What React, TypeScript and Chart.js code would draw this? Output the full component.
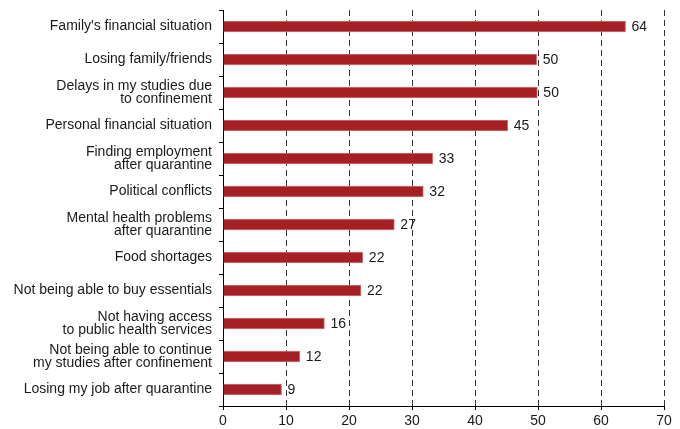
import React, { useEffect, useRef } from "react";
import { Chart, registerables } from "chart.js";

Chart.register(...registerables);

const categories: (string | string[])[] = [
  "Family's financial situation",
  "Losing family/friends",
  ["Delays in my studies due", "to confinement"],
  "Personal financial situation",
  ["Finding employment", "after quarantine"],
  "Political conflicts",
  ["Mental health problems", "after quarantine"],
  "Food shortages",
  "Not being able to buy essentials",
  ["Not having access", "to public health services"],
  ["Not being able to continue", "my studies after confinement"],
  "Losing my job after quarantine",
];

const values: number[] = [63.9, 49.8, 49.9, 45.2, 33.3, 31.8, 27.2, 22.2, 21.9, 16.1, 12.2, 9.3];
const valueLabels: string[] = ["64", "50", "50", "45", "33", "32", "27", "22", "22", "16", "12", "9"];

const xTicks: number[] = [0, 10, 20, 30, 40, 50, 60, 70];

const FONT = "'Liberation Sans', Arial, Helvetica, sans-serif";
const TEXT = "#1a1a1a";

const valueLabelPlugin = {
  id: "valueLabels",
  afterDatasetsDraw(chart: any) {
    const ctx = chart.ctx;
    const meta = chart.getDatasetMeta(0);
    ctx.save();
    ctx.font = `14px ${FONT}`;
    ctx.fillStyle = TEXT;
    ctx.textAlign = "left";
    ctx.textBaseline = "middle";
    meta.data.forEach((bar: any, i: number) => {
      ctx.fillText(valueLabels[i], bar.x + 6, bar.y + 1);
    });
    ctx.restore();
  },
};

export default function App() {
  const ref = useRef<HTMLCanvasElement | null>(null);

  useEffect(() => {
    document.body.style.margin = "0";
    if (!ref.current) return;
    const chart = new Chart(ref.current, {
      type: "bar",
      data: {
        labels: categories,
        datasets: [
          {
            data: values,
            backgroundColor: "#a51f24",
            borderColor: "#c97a7c",
            borderWidth: 1,
            borderSkipped: "start",
            barThickness: 11,
          },
        ],
      },
      options: {
        indexAxis: "y",
        animation: false,
        responsive: false,
        maintainAspectRatio: false,
        layout: { padding: { top: 10, right: 16, bottom: 0, left: 0 } },
        plugins: {
          legend: { display: false },
          tooltip: { enabled: false },
        },
        scales: {
          x: {
            type: "linear",
            min: 0,
            max: 70,
            afterBuildTicks: (scale: any) => {
              scale.ticks = xTicks.map((v) => ({ value: v }));
            },
            afterFit: (scale: any) => {
              scale.height = 23;
              scale.paddingLeft = 0;
              scale.paddingRight = 0;
            },
            grid: {
              color: "#333333",
              lineWidth: 1,
              drawTicks: true,
              tickLength: 4,
              tickColor: "#000000",
            },
            border: { display: true, color: "#000000", width: 1, dash: [6, 4] },
            ticks: {
              color: TEXT,
              font: { family: FONT, size: 14 },
              padding: 3,
              maxRotation: 0,
            },
          },
          y: {
            afterFit: (scale: any) => {
              scale.width = 223;
              scale.paddingTop = 0;
              scale.paddingBottom = 0;
            },
            grid: {
              drawOnChartArea: false,
              drawTicks: true,
              tickLength: 4,
              color: "#000000",
              offset: true,
            },
            border: { display: true, color: "#000000", width: 1 },
            ticks: {
              color: TEXT,
              font: { family: FONT, size: 14, lineHeight: 0.92 },
              padding: 7,
            },
          },
        },
      },
      plugins: [valueLabelPlugin],
    });
    return () => chart.destroy();
  }, []);

  return (
    <div style={{ width: 680, height: 429 }}>
      <canvas ref={ref} width={680} height={429} style={{ display: "block" }} />
    </div>
  );
}
